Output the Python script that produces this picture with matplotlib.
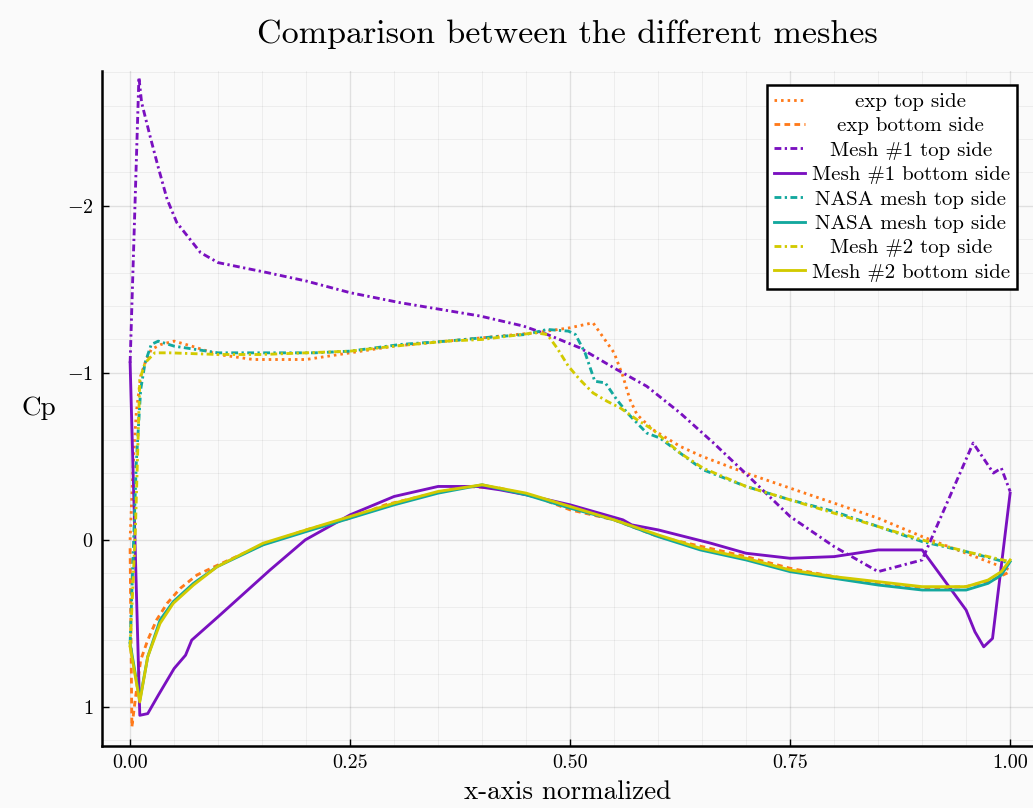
import matplotlib
matplotlib.use("Agg")
import matplotlib.pyplot as plt
from matplotlib.ticker import MultipleLocator

# ---------------- data ----------------
exp_top_x = [0.0, 0.003, 0.007, 0.012, 0.017, 0.024, 0.035, 0.05, 0.07, 0.1, 0.14, 0.2, 0.25, 0.3,
             0.36, 0.4, 0.46, 0.5, 0.526, 0.55, 0.56, 0.568, 0.576, 0.594, 0.625, 0.65, 0.68, 0.7,
             0.75, 0.8, 0.85, 0.9, 0.95, 1.0]
exp_top_cp = [0.0, -0.4, -0.76, -0.98, -1.06, -1.14, -1.17, -1.19, -1.16, -1.11, -1.08, -1.08, -1.12,
              -1.16, -1.19, -1.21, -1.24, -1.27, -1.30, -1.12, -0.98, -0.84, -0.75, -0.66, -0.56,
              -0.50, -0.44, -0.40, -0.31, -0.22, -0.13, -0.02, 0.08, 0.18]

exp_bot_x = [0.0, 0.002, 0.006, 0.012, 0.02, 0.03, 0.042, 0.057, 0.076, 0.1, 0.15, 0.2, 0.25, 0.29,
             0.33, 0.38, 0.42, 0.46, 0.5, 0.55, 0.6, 0.65, 0.7, 0.75, 0.8, 0.85, 0.9, 0.95, 0.98, 1.0]
exp_bot_cp = [0.05, 1.12, 0.95, 0.72, 0.6, 0.48, 0.38, 0.29, 0.21, 0.15, 0.03, -0.06, -0.13, -0.21,
              -0.26, -0.32, -0.31, -0.26, -0.18, -0.12, -0.02, 0.04, 0.1, 0.17, 0.22, 0.26, 0.29,
              0.28, 0.24, 0.19]

mesh1_top_x = [0.0, 0.01, 0.013, 0.023, 0.032, 0.042, 0.053, 0.08, 0.1, 0.156, 0.2, 0.25, 0.307,
               0.364, 0.398, 0.447, 0.474, 0.511, 0.553, 0.587, 0.625, 0.663, 0.697, 0.75, 0.80,
               0.85, 0.90, 0.958, 0.981, 0.99, 1.0]
mesh1_top_cp = [-1.06, -2.77, -2.62, -2.41, -2.23, -2.04, -1.90, -1.72, -1.66, -1.60, -1.55, -1.48,
                -1.42, -1.37, -1.34, -1.28, -1.23, -1.15, -1.02, -0.92, -0.76, -0.58, -0.41, -0.14,
                0.04, 0.19, 0.12, -0.58, -0.40, -0.43, -0.29]

mesh1_bot_x = [0.0, 0.011, 0.02, 0.032, 0.05, 0.063, 0.07, 0.1, 0.159, 0.199, 0.25, 0.30, 0.35,
               0.394, 0.42, 0.45, 0.5, 0.56, 0.57, 0.6, 0.66, 0.70, 0.75, 0.80, 0.85, 0.90, 0.95,
               0.96, 0.97, 0.98, 1.0]
mesh1_bot_cp = [-1.06, 1.05, 1.04, 0.93, 0.77, 0.69, 0.60, 0.46, 0.18, 0.0, -0.15, -0.26, -0.32,
                -0.32, -0.30, -0.27, -0.21, -0.12, -0.09, -0.06, 0.02, 0.08, 0.11, 0.10, 0.06, 0.06,
                0.42, 0.55, 0.64, 0.59, -0.28]

nasa_top_x = [0.0, 0.007, 0.012, 0.017, 0.024, 0.032, 0.05, 0.1, 0.15, 0.21, 0.25, 0.307, 0.36,
              0.40, 0.45, 0.474, 0.498, 0.506, 0.517, 0.528, 0.54, 0.553, 0.565, 0.587, 0.602,
              0.625, 0.651, 0.7, 0.75, 0.8, 0.85, 0.9, 0.95, 1.0]
nasa_top_cp = [0.62, -0.46, -0.9, -1.06, -1.17, -1.19, -1.16, -1.12, -1.12, -1.12, -1.13, -1.17,
               -1.19, -1.21, -1.23, -1.26, -1.25, -1.23, -1.12, -0.95, -0.94, -0.84, -0.76, -0.64,
               -0.61, -0.52, -0.42, -0.32, -0.24, -0.17, -0.08, 0.01, 0.07, 0.14]

nasa_bot_x = [0.0, 0.011, 0.02, 0.034, 0.049, 0.072, 0.099, 0.151, 0.2, 0.25, 0.3, 0.35, 0.40,
              0.45, 0.5, 0.55, 0.6, 0.648, 0.7, 0.75, 0.8, 0.85, 0.9, 0.95, 0.975, 0.99, 1.0]
nasa_bot_cp = [0.62, 0.96, 0.70, 0.48, 0.37, 0.26, 0.16, 0.03, -0.05, -0.13, -0.21, -0.28, -0.33,
               -0.27, -0.19, -0.12, -0.02, 0.06, 0.12, 0.19, 0.23, 0.27, 0.30, 0.30, 0.26, 0.21, 0.13]

mesh2_top_x = [0.0, 0.006, 0.011, 0.017, 0.028, 0.045, 0.1, 0.15, 0.2, 0.25, 0.3, 0.36, 0.4, 0.46,
               0.474, 0.485, 0.498, 0.511, 0.526, 0.542, 0.557, 0.576, 0.594, 0.625, 0.651, 0.7,
               0.75, 0.8, 0.85, 0.9, 0.95, 1.0]
mesh2_top_cp = [0.64, -0.06, -0.96, -1.06, -1.12, -1.12, -1.11, -1.11, -1.12, -1.13, -1.16, -1.19,
                -1.20, -1.24, -1.23, -1.15, -1.04, -0.96, -0.88, -0.83, -0.79, -0.72, -0.66, -0.52,
                -0.43, -0.32, -0.24, -0.16, -0.08, 0.0, 0.07, 0.13]

mesh2_bot_x = [0.0, 0.011, 0.02, 0.034, 0.049, 0.072, 0.099, 0.151, 0.2, 0.25, 0.3, 0.35, 0.40,
               0.45, 0.5, 0.55, 0.6, 0.648, 0.7, 0.75, 0.8, 0.85, 0.9, 0.95, 0.975, 0.99, 1.0]
mesh2_bot_cp = [0.64, 0.97, 0.70, 0.50, 0.38, 0.27, 0.16, 0.02, -0.06, -0.14, -0.22, -0.29, -0.33,
                -0.28, -0.20, -0.12, -0.03, 0.05, 0.11, 0.18, 0.22, 0.25, 0.28, 0.28, 0.24, 0.19, 0.12]

labels = ["exp top side", "exp bottom side", "Mesh #1 top side", "Mesh #1 bottom side",
          "NASA mesh top side", "NASA mesh top side", "Mesh #2 top side", "Mesh #2 bottom side"]

title = "Comparison between the different meshes"
xlabel = "x-axis normalized"
ylabel = "Cp"

# ---------------- style ----------------
plt.rcParams["font.family"] = ["cmr10", "DejaVu Serif"]
plt.rcParams["mathtext.fontset"] = "cm"
plt.rcParams["axes.formatter.use_mathtext"] = True

ORANGE = "#FF7A1A"
PURPLE = "#7A10C0"
TEAL = "#13A89E"
YELLOW = "#D2CA00"
BG = "#FAFAFA"
LW = 2.05
DASHDOT = (0, (2.4, 1.2, 0.8, 1.2))

fig = plt.figure(figsize=(10.33, 8.08), dpi=100, facecolor=BG)
ax = fig.add_axes([0.0987, 0.0767, 0.9013, 0.836])
ax.set_facecolor(BG)

series = [
    (exp_top_x, exp_top_cp, ORANGE, (0, (0.9, 1.4))),
    (exp_bot_x, exp_bot_cp, ORANGE, (0, (2.0, 1.5))),
    (mesh1_top_x, mesh1_top_cp, PURPLE, DASHDOT),
    (mesh1_bot_x, mesh1_bot_cp, PURPLE, "-"),
    (nasa_top_x, nasa_top_cp, TEAL, DASHDOT),
    (nasa_bot_x, nasa_bot_cp, TEAL, "-"),
    (mesh2_top_x, mesh2_top_cp, YELLOW, DASHDOT),
    (mesh2_bot_x, mesh2_bot_cp, YELLOW, "-"),
]
for (xs, ys, c, ls), lab in zip(series, labels):
    ax.plot(xs, ys, color=c, linestyle=ls, linewidth=LW, label=lab)

ax.set_xlim(-0.032, 1.026)
ax.set_ylim(1.234, -2.81)

ax.xaxis.set_major_locator(MultipleLocator(0.25))
ax.xaxis.set_minor_locator(MultipleLocator(0.05))
ax.yaxis.set_major_locator(MultipleLocator(1.0))
ax.yaxis.set_minor_locator(MultipleLocator(0.2))
ax.xaxis.set_major_formatter(plt.FuncFormatter(lambda v, p: f"{v:.2f}"))
ax.yaxis.set_major_formatter(plt.FuncFormatter(lambda v, p: f"$\\mathdefault{{{int(round(v)):d}}}$".replace("-", "\u2212")))

ax.grid(which="major", color="#000000", alpha=0.10, linewidth=1.0)
ax.grid(which="minor", color="#000000", alpha=0.05, linewidth=0.7)
ax.set_axisbelow(True)

for s in ["top", "right"]:
    ax.spines[s].set_visible(False)
for s in ["left", "bottom"]:
    ax.spines[s].set_linewidth(1.8)
    ax.spines[s].set_color("black")

ax.tick_params(which="major", direction="in", length=5, width=1.0, labelsize=14.5, colors="black",
               pad=6)
ax.tick_params(which="minor", length=0)

ax.set_title(title, fontsize=24.5, pad=20)
ax.set_xlabel(xlabel, fontsize=19.5, labelpad=6)
ax.set_ylabel(ylabel, fontsize=19.5, rotation=0, labelpad=20, va="center")

leg = ax.legend(loc="upper right", bbox_to_anchor=(1017 / 1033, 1 - 85 / 808),
                bbox_transform=fig.transFigure, fontsize=15, frameon=True, fancybox=False,
                edgecolor="black", facecolor="white", framealpha=1.0, borderaxespad=0,
                handlelength=1.45, handletextpad=0.34, labelspacing=0.28, borderpad=0.35)
leg.get_frame().set_linewidth(1.8)

# center legend labels within their column
fig.canvas.draw()
texts = leg.get_texts()
widths = [t.get_window_extent().width for t in texts]
wmax = max(widths)
for t, w in zip(texts, widths):
    t.set_x((wmax - w) / 2.0)

fig.savefig("out.png", dpi=100, facecolor=BG)
